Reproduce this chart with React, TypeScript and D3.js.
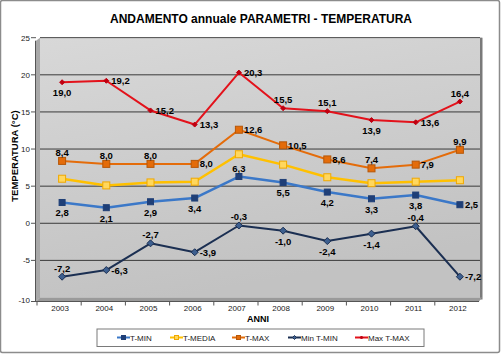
import React from "react";
import * as d3 from "d3";

const years = ["2003","2004","2005","2006","2007","2008","2009","2010","2011","2012"];
const tMin = [2.8, 2.1, 2.9, 3.4, 6.3, 5.5, 4.2, 3.3, 3.8, 2.5];
const tMedia = [6.0, 5.1, 5.5, 5.6, 9.3, 7.9, 6.2, 5.4, 5.6, 5.8];
const tMax = [8.4, 8.0, 8.0, 8.0, 12.6, 10.5, 8.6, 7.4, 7.9, 9.9];
const minTMin = [-7.2, -6.3, -2.7, -3.9, -0.3, -1.0, -2.4, -1.4, -0.4, -7.2];
const maxTMax = [19.0, 19.2, 15.2, 13.3, 20.3, 15.5, 15.1, 13.9, 13.6, 16.4];
const yTicks = [-10, -5, 0, 5, 10, 15, 20, 25];

// label placement per point (a=above, b=below, r=right, n=none)
const posTMin = ["b","b","b","b","a","b","b","b","b","r"];
const posTMax = ["a","a","a","r","r","r","r","a","r","a"];
const posMinTMin = ["a","r","a","r","a","b","b","b","a","r"];
const posMaxTMax = ["b","r","r","r","r","a","a","b","r","a"];

const W = 501, H = 354;
const FONT = "'Liberation Sans', Arial, sans-serif";

type Series = {
  name: string; values: number[]; color: string; width: number;
  marker: "square" | "diamond" | "small"; mFill: string; mStroke: string; mSize: number;
  labels: string[] | null;
};

const series: Series[] = [
  { name: "T-MIN", values: tMin, color: "#3b78c8", width: 2.5, marker: "square", mFill: "#1f3f77", mStroke: "#1f3f77", mSize: 6, labels: posTMin },
  { name: "T-MEDIA", values: tMedia, color: "#ffc000", width: 2.5, marker: "square", mFill: "#ffd75e", mStroke: "#f0a800", mSize: 7, labels: null },
  { name: "T-MAX", values: tMax, color: "#e46c0a", width: 2, marker: "square", mFill: "#e46c0a", mStroke: "#b65708", mSize: 7, labels: posTMax },
  { name: "Min T-MIN", values: minTMin, color: "#1b2f52", width: 2, marker: "diamond", mFill: "#3d5f8f", mStroke: "#1b2f52", mSize: 7, labels: posMinTMin },
  { name: "Max T-MAX", values: maxTMax, color: "#e3121b", width: 2, marker: "small", mFill: "#c00010", mStroke: "#c00010", mSize: 5, labels: posMaxTMax },
];

function Marker({ s, x, y }: { s: Series; x: number; y: number }) {
  const h = s.mSize / 2;
  if (s.marker === "square") {
    return <rect x={x - h} y={y - h} width={s.mSize} height={s.mSize} fill={s.mFill} stroke={s.mStroke} strokeWidth={1} />;
  }
  return <path d={`M${x},${y - h}L${x + h},${y}L${x},${y + h}L${x - h},${y}Z`} fill={s.mFill} stroke={s.mStroke} strokeWidth={1} />;
}

function fmt(v: number) {
  return v.toFixed(1).replace(".", ",");
}

export default function App() {
  const left = 40, right = 482, top = 37.7, bottom = 297.5;
  const x = d3.scaleBand<string>().domain(years).range([left, right]);
  const y = d3.scaleLinear().domain([-10, 25]).range([bottom, top]);
  const cx = (i: number) => (x(years[i]) as number) + x.bandwidth() / 2;
  const line = d3.line<number>().x((_, i) => cx(i)).y((d) => y(d));

  const legendItems = [
    { s: series[0], lx: 117, tx: 130 },
    { s: series[1], lx: 170, tx: 183 },
    { s: series[2], lx: 232, tx: 245 },
    { s: series[3], lx: 288, tx: 301 },
    { s: series[4], lx: 355, tx: 368 },
  ];
  const LF = 9.5;

  return (
    <svg width={W} height={H} style={{ position: "absolute", left: 0, top: 0 }} fontFamily={FONT}>
      <defs>
        <linearGradient id="wall" x1="0" y1="0" x2="0.3" y2="1">
          <stop offset="0" stopColor="#d8d8d8" />
          <stop offset="1" stopColor="#c2c2c2" />
        </linearGradient>
      </defs>
      <rect x={0.5} y={0.5} width={W - 2} height={H - 2} fill="#fff" stroke="#8c8c8c" strokeWidth={1.5} rx={2} />
      <text x={261} y={23} textAnchor="middle" fontSize={12} fontWeight="bold" fill="#000">
        ANDAMENTO annuale PARAMETRI - TEMPERATURA
      </text>

      {/* 3D walls */}
      <path d={`M${left - 4},${top + 3}L${left},${top}L${left},${bottom}L${left - 4},${bottom + 4}Z`} fill="#a8a8a8" />
      <rect x={left} y={top} width={right - left} height={bottom - top} fill="url(#wall)" />
      <line x1={left} x2={right} y1={top + 0.5} y2={top + 0.5} stroke="#eeeeee" strokeWidth={1} />
      <rect x={right - 2} y={top} width={2.5} height={bottom - top + 2} fill="#7a7a7a" />
      <path d={`M${left - 4},${bottom + 4}L${left},${bottom}L${right},${bottom}L${right - 3},${bottom + 4}Z`} fill="#9a9a9a" />
      <line x1={left - 4} x2={right - 3} y1={bottom + 4} y2={bottom + 4} stroke="#6e6e6e" strokeWidth={1} />

      {/* grid */}
      {yTicks.map((t) => (
        <g key={t}>
          {t > -10 && <line x1={left} x2={right - 2} y1={y(t)} y2={y(t)} stroke="#3a3a3a" strokeWidth={1} />}
          <line x1={left - 9} x2={left - 4} y1={y(t) + (t === -10 ? 4 : 0)} y2={y(t) + (t === -10 ? 4 : 0)} stroke="#555" strokeWidth={1} />
          <text x={left - 10} y={y(t) + 3 + (t === -10 ? 2 : 0)} textAnchor="end" fontSize={8} fill="#222">{t}</text>
        </g>
      ))}
      <line x1={left - 4.5} x2={left - 4.5} y1={top + 3} y2={bottom + 4} stroke="#555" strokeWidth={1} />
      {years.map((yr, i) => (
        <g key={yr}>
          <line x1={(x(yr) as number) - 3} x2={(x(yr) as number) - 3} y1={bottom + 4} y2={bottom + 8} stroke="#555" />
          <text x={cx(i) - 2} y={bottom + 13} textAnchor="middle" fontSize={8} fill="#222">{yr}</text>
        </g>
      ))}
      <line x1={left - 4} x2={right - 3} y1={bottom + 4} y2={bottom + 4} stroke="#555" />

      {/* axis titles */}
      <text x={258} y={321.5} textAnchor="middle" fontSize={9} fontWeight="bold">ANNI</text>
      <text transform="translate(18,156) rotate(-90)" textAnchor="middle" fontSize={9.5} fontWeight="bold">TEMPERATURA  (°C)</text>

      {/* series */}
      {series.map((s) => (
        <g key={s.name}>
          <path d={line(s.values) as string} fill="none" stroke={s.color} strokeWidth={s.width} strokeLinejoin="round" />
          {s.values.map((v, i) => <Marker key={i} s={s} x={cx(i)} y={y(v)} />)}
        </g>
      ))}
      {series.map((s) =>
        s.labels ? (
          <g key={s.name + "l"}>
            {s.values.map((v, i) => {
              const p = s.labels![i];
              const px = cx(i), py = y(v);
              if (p === "n") return null;
              if (p === "a") return <text key={i} x={px} y={py - 5} textAnchor="middle" fontSize={LF} fontWeight="bold">{fmt(v)}</text>;
              if (p === "b") return <text key={i} x={px} y={py + 14} textAnchor="middle" fontSize={LF} fontWeight="bold">{fmt(v)}</text>;
              return <text key={i} x={px + 5} y={py + 3.5} textAnchor="start" fontSize={LF} fontWeight="bold">{fmt(v)}</text>;
            })}
          </g>
        ) : null
      )}

      {/* legend */}
      <rect x={97} y={329} width={327} height={17.5} fill="#fff" stroke="#7a7a7a" strokeWidth={1} />
      {legendItems.map(({ s, lx, tx }) => (
        <g key={s.name}>
          <line x1={lx} x2={lx + 13} y1={337.5} y2={337.5} stroke={s.color} strokeWidth={2} />
          <Marker s={{ ...s, mSize: s.marker === "small" ? 3 : 4 }} x={lx + 6.5} y={337.5} />
          <text x={tx} y={340.5} fontSize={8} fill="#222" textLength={undefined}>{s.name}</text>
        </g>
      ))}
    </svg>
  );
}
